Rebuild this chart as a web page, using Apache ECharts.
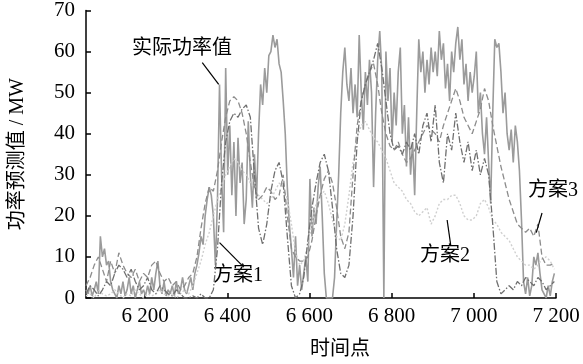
<!DOCTYPE html>
<html>
<head>
<meta charset="utf-8">
<script src="https://cdn.jsdelivr.net/npm/echarts@6/dist/echarts.min.js"></script>
<style>
html,body{margin:0;padding:0;background:#fff;}
#chart{width:583px;height:364px;}
</style>
</head>
<body>
<div id="chart"></div>
<script>
// ---- data ----
const xMin = 6056, xMax = 7200;
const xTicks = [6200, 6400, 6600, 6800, 7000, 7200];

// actual power, one reading every 5 time points starting at 6056
const actualStart = 6056, actualStep = 5;
const actual = [
  2,1,3,0.5,2,4,1,15,10,12,
  8,9,4,2,1,0,3,1,4,0.5,
  2,5,1,3,0,2,4,1,2,0.5,
  3,1,5,2,6,9,3,1,4,0.5,
  2,1,3,0.5,4,1,2,5,2,1,
  3,5,2,6,8,11,15,13,20,24,
  27,25,20,8,24,52,30,16,56,30,
  42,25,38,20,39,28,33,18,24,43,
  30,22,35,24,40,52,47,56,50,59,
  60,64,61,63,57,55,48,40,27,18,
  12,5,15,3,8,2,6,10,4,29,
  15,22,18,27,32,20,6,0,0,0,
  0,5,18,30,45,55,61,52,48,56,
  45,52,44,64,50,41,55,47,58,50,
  27,45,58,65,55,0,60,48,56,38,
  50,42,55,61,40,47,32,44,30,38,
  25,45,63,55,60,50,58,52,61,55,
  60,54,65,58,62,51,57,48,60,55,
  62,66,58,63,52,57,48,55,50,54,
  60,45,50,40,35,44,33,23,45,63,
  61,62,55,45,50,40,36,41,33,42,
  38,31,19,4,1,5,0.5,3,10,8,
  11,6,2,1,0,3,0.5,4,6
];

// forecasts, one value every 10 time points starting at 6056
const fcStart = 6056, fcStep = 10;
const plan1 = [
  1,3,2,0.5,2,4,3,6,8,7,
  5,7,4,2,3,5,2,1,3,2,
  1,0.5,2,1,0,0,0.5,0,1,0,
  0,2,12,28,38,43,45,44,46,47,
  44,30,17,13,18,26,31,33,28,15,
  3,0,1,5,14,22,28,33,35,31,
  22,12,6,5,8,20,38,48,52,55,
  58,62,56,48,40,36,37,35,38,36,
  40,35,42,45,38,47,33,28,40,36,
  45,38,33,38,31,36,30,34,30,18,
  4,1,2,3,2,4,3,5,4,3,5,4,2,3,4
];
const plan2 = [
  0.5,1,0,2,1,0.5,1,2,1,0,
  1,0.5,2,1,0,1,0.5,1,2,1,
  0.5,1,0,1,2,1,3,6,9,13,
  16,20,24,27,30,32,34,33,31,30,
  28,27,25,24,23,24,26,28,27,24,
  18,11,8,9,13,18,23,25,26,23,
  19,15,14,18,25,33,39,42,43,41,
  39,38,36,34,31,28,27,26,24,23,
  21,20,21,22,18,20,23,24,24,25,
  25,23,20,19,19,20,23,24,22,19,
  18,16,15,14,12,10,9,8,8,7,8,9.5,10,9,7
];
const plan3 = [
  3,5,8,10,7,4,9,6,11,8,
  6,5,7,4,6,5,8,9,6,4,
  5,3,4,2,3,5,6,10,17,23,
  27,26,31,38,44,48,49,48,45,40,
  33,27,24,25,27,26,24,25,30,20,
  12,10,9,9,10,14,20,25,29,31,
  28,22,15,12,16,30,42,48,52,55,
  57,52,45,40,37,36,38,35,33,34,
  36,38,40,42,41,40,38,42,45,48,
  51,48,44,42,40,43,46,51,48,42,
  37,32,28,24,21,18,17,16,17,15,18,10,8,8,8.5
];

// annotation texts and leader lines (data coordinates)
const annoNames = ['实际功率值', '方案1', '方案2', '方案3'];
const annoLines = [
  [[6339, 57.3], [6379, 52]],
  [[6381, 13.5], [6440, 7.5]],
  [[6935, 19], [6944, 12.7]],
  [[7166, 20.7], [7152, 15.9]]
];

function pairs(start, step, arr) {
  return arr.map((v, i) => [start + i * step, v]);
}

const serif = '"Times New Roman", "Liberation Serif", Tinos, serif';
const cjk = '"Noto Sans CJK SC", sans-serif';
const mixed = '"Times New Roman", "Liberation Serif", "Noto Sans CJK SC", serif';

const chart = echarts.init(document.getElementById('chart'), null, {renderer: 'canvas'});
chart.setOption({
  animation: false,
  backgroundColor: '#fff',
  grid: {left: 70, right: 27, top: 7, bottom: 66, containLabel: false},
  xAxis: {
    type: 'value', min: xMin, max: xMax,
    splitLine: {show: false},
    axisLine: {show: true, lineStyle: {color: '#000', width: 1.5}},
    axisTick: {show: true, inside: true, length: 5, customValues: xTicks, lineStyle: {color: '#000', width: 1.5}},
    axisLabel: {
      customValues: xTicks, margin: 8, color: '#000',
      fontFamily: serif, fontSize: 21,
      formatter: v => { const s = String(v); return s.slice(0, s.length - 3) + ' ' + s.slice(-3); }
    }
  },
  yAxis: {
    type: 'value', min: 0, max: 70, interval: 10,
    name: '功率预测值 / MW', nameLocation: 'middle', nameGap: 58, nameRotate: 90,
    nameTextStyle: {color: '#000', fontFamily: mixed, fontSize: 20},
    splitLine: {show: false},
    axisLine: {show: true, lineStyle: {color: '#000', width: 1.5}},
    axisTick: {show: true, inside: true, length: 5, lineStyle: {color: '#000', width: 1.5}},
    axisLabel: {margin: 11, color: '#000', fontFamily: serif, fontSize: 21}
  },
  graphic: [
    {type: 'text', left: 310, top: 337, style: {text: '时间点', fontFamily: cjk, fontSize: 20, fill: '#000'}},
    {type: 'text', left: 132, top: 36, style: {text: annoNames[0], fontFamily: cjk, fontSize: 20, fill: '#000'}},
    {type: 'text', left: 213, top: 266, style: {text: annoNames[1], fontFamily: mixed, fontSize: 20, fill: '#000'}},
    {type: 'text', left: 420, top: 246, style: {text: annoNames[2], fontFamily: mixed, fontSize: 20, fill: '#000'}},
    {type: 'text', left: 528, top: 181, style: {text: annoNames[3], fontFamily: mixed, fontSize: 20, fill: '#000'}}
  ],
  series: [
    {
      name: '实际功率值', type: 'line', showSymbol: false, symbol: 'none',
      data: pairs(actualStart, actualStep, actual),
      lineStyle: {color: '#9b9b9b', width: 1.6}, z: 2,
      markLine: {
        silent: true, symbol: 'none', animation: false,
        label: {show: false},
        lineStyle: {color: '#000', width: 1.2, type: 'solid'},
        data: annoLines.map(l => [{coord: l[0]}, {coord: l[1]}])
      }
    },
    {
      name: '方案2', type: 'line', showSymbol: false, symbol: 'none',
      data: pairs(fcStart, fcStep, plan2),
      lineStyle: {color: '#cfcfcf', width: 1.4, type: [2, 2]}, z: 3
    },
    {
      name: '方案3', type: 'line', showSymbol: false, symbol: 'none',
      data: pairs(fcStart, fcStep, plan3),
      lineStyle: {color: '#8c8c8c', width: 1.3, type: [6, 3]}, z: 4
    },
    {
      name: '方案1', type: 'line', showSymbol: false, symbol: 'none',
      data: pairs(fcStart, fcStep, plan1),
      lineStyle: {color: '#6f6f6f', width: 1.3, type: [7, 2, 1.5, 2]}, z: 5
    }
  ]
});
</script>
</body>
</html>
